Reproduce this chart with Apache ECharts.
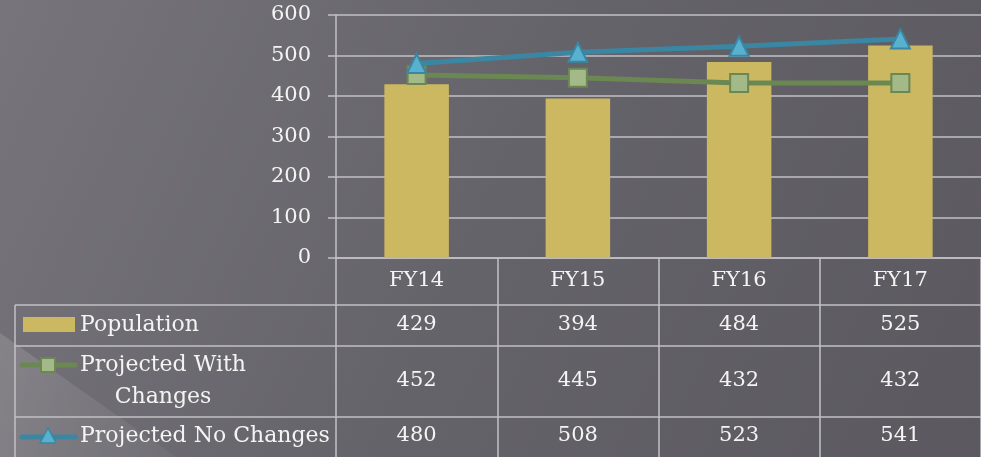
<!DOCTYPE html>
<html>
<head>
<meta charset="utf-8">
<script src="https://cdn.jsdelivr.net/npm/echarts@6/dist/echarts.min.js"></script>
<style>
  html, body { margin: 0; padding: 0; }
  #chart { width: 981px; height: 457px; }
</style>
</head>
<body>
<div id="chart"></div>
<script>
var categories = ['FY14', 'FY15', 'FY16', 'FY17'];
var population = [429, 394, 484, 525];
var withChanges = [452, 445, 432, 432];
var noChanges = [480, 508, 523, 541];
var yTicks = [0, 100, 200, 300, 400, 500, 600];

var FONT = 'DejaVu Serif';
var TEXT = '#f4f4f4';
var LINE = '#c2c1c5';
var GOLD = '#cdb862';
var GREEN = '#6b8752', GREEN_FILL = '#a3b988';
var BLUE = '#3a86a3', BLUE_FILL = '#59b1d0';

// one extra x axis per table row, labels are the row values
function rowAxis(values, offset) {
    return {
        type: 'category',
        position: 'bottom',
        offset: offset,
        data: values.map(String),
        axisLine: { show: false },
        axisTick: { show: false },
        axisLabel: { color: TEXT, fontFamily: FONT, fontSize: 21, lineHeight: 24, margin: 0 }
    };
}

var chart = echarts.init(document.getElementById('chart'));

var option = {
    backgroundColor: {
        type: 'linear', x: 0, y: 0, x2: 1, y2: 1,
        colorStops: [
            { offset: 0, color: '#77757b' },
            { offset: 0.5, color: '#65636a' },
            { offset: 1, color: '#5b595f' }
        ]
    },
    animation: false,
    grid: { left: 336, top: 15, width: 654, height: 243 },
    xAxis: [
        {
            type: 'category',
            data: categories,
            axisLine: { lineStyle: { color: LINE, width: 1.5 } },
            axisTick: { show: true, length: 200, lineStyle: { color: LINE, width: 1.5 } },
            axisLabel: { color: TEXT, fontFamily: FONT, fontSize: 21, lineHeight: 24, margin: 11 }
        },
        rowAxis(population, 55),
        rowAxis(withChanges, 111),
        rowAxis(noChanges, 166)
    ],
    yAxis: {
        type: 'value',
        min: yTicks[0],
        max: yTicks[yTicks.length - 1],
        interval: 100,
        axisLine: { show: true, lineStyle: { color: LINE, width: 1.5 } },
        axisTick: { show: true, length: 8, lineStyle: { color: LINE, width: 1.5 } },
        axisLabel: { color: TEXT, fontFamily: FONT, fontSize: 21, margin: 25 },
        splitLine: { lineStyle: { color: LINE, width: 1.5 } }
    },
    series: [
        {
            name: 'Population',
            type: 'bar',
            data: population,
            barWidth: '40%',
            itemStyle: { color: GOLD }
        },
        {
            name: 'Projected With Changes',
            type: 'line',
            data: withChanges,
            symbol: 'rect',
            symbolSize: 18,
            lineStyle: { color: GREEN, width: 5 },
            itemStyle: { color: GREEN_FILL, borderColor: GREEN, borderWidth: 2 },
            z: 3
        },
        {
            name: 'Projected No Changes',
            type: 'line',
            data: noChanges,
            symbol: 'triangle',
            symbolSize: 19,
            lineStyle: { color: BLUE, width: 5 },
            itemStyle: { color: BLUE_FILL, borderColor: BLUE, borderWidth: 2 },
            z: 4
        }
    ],
    graphic: [
        // faint light streak bottom left
        {
            type: 'polygon', silent: true, z: -10,
            shape: { points: [[0, 333], [176, 457], [0, 457]] },
            style: {
                fill: {
                    type: 'linear', x: 0, y: 0.3, x2: 1, y2: 0.7,
                    colorStops: [
                        { offset: 0, color: 'rgba(255,255,255,0.13)' },
                        { offset: 1, color: 'rgba(255,255,255,0.04)' }
                    ]
                }
            }
        },
        // table row borders
        { type: 'line', shape: { x1: 15, y1: 305, x2: 981, y2: 305 }, style: { stroke: LINE, lineWidth: 1.5 } },
        { type: 'line', shape: { x1: 15, y1: 346, x2: 981, y2: 346 }, style: { stroke: LINE, lineWidth: 1.5 } },
        { type: 'line', shape: { x1: 15, y1: 417, x2: 981, y2: 417 }, style: { stroke: LINE, lineWidth: 1.5 } },
        { type: 'line', shape: { x1: 15, y1: 305, x2: 15, y2: 457 }, style: { stroke: LINE, lineWidth: 1.5 } },
        // legend keys
        { type: 'rect', shape: { x: 23, y: 317, width: 52, height: 15 }, style: { fill: GOLD } },
        { type: 'line', shape: { x1: 22, y1: 365, x2: 75, y2: 365 }, style: { stroke: GREEN, lineWidth: 5, lineCap: 'round' } },
        { type: 'rect', shape: { x: 41, y: 358, width: 14, height: 14 }, style: { fill: GREEN_FILL, stroke: GREEN, lineWidth: 2 } },
        { type: 'line', shape: { x1: 22, y1: 437, x2: 75, y2: 437 }, style: { stroke: BLUE, lineWidth: 5, lineCap: 'round' } },
        { type: 'polygon', shape: { points: [[48, 428], [56, 443], [40, 443]] }, style: { fill: BLUE_FILL, stroke: BLUE, lineWidth: 1.5 } },
        // legend labels
        { type: 'text', x: 80, y: 325, style: { text: 'Population', fill: TEXT, font: '22px "' + FONT + '"', verticalAlign: 'middle' } },
        { type: 'text', x: 163, y: 381, style: { text: 'Projected With\nChanges', fill: TEXT, font: '22px "' + FONT + '"', align: 'center', verticalAlign: 'middle', lineHeight: 32 } },
        { type: 'text', x: 80, y: 436, style: { text: 'Projected No Changes', fill: TEXT, font: '22px "' + FONT + '"', verticalAlign: 'middle' } }
    ]
};

chart.setOption(option);
</script>
</body>
</html>
